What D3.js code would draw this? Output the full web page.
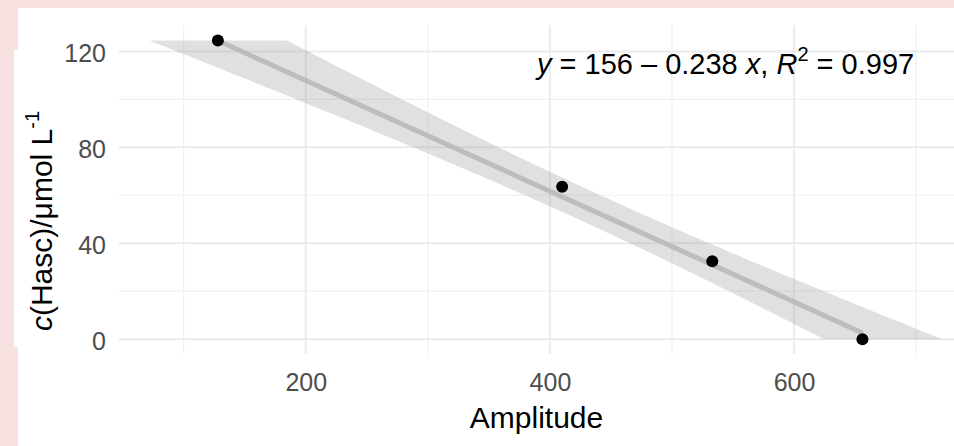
<!DOCTYPE html>
<html>
<head>
<meta charset="utf-8">
<script src="https://cdn.jsdelivr.net/npm/d3@7"></script>
<style>
    body { margin: 0; background: #f7e1e1; }
    svg { display: block; font-family: "Liberation Sans", Arial, sans-serif; }
</style>
</head>
<body>
<svg id="chart" width="954" height="446"></svg>
<script>
// data
const amplitude = [128, 410, 533, 656];
const concentration = [124.5, 63.5, 32.5, 0];
const xMajorTicks = [200, 400, 600];
const xMinorTicks = [100, 300, 500, 700];
const yMajorTicks = [0, 40, 80, 120];
const yMinorTicks = [20, 60, 100];
const fitIntercept = '156';
const fitSlope = '0.238';
const fitR2 = '0.997';

(function() {
    'use strict';

    const svg = d3.select('#chart');
    const W = 954, H = 446;
    const panel = { left: 119, right: 954, top: 25, bottom: 354 };

    // white plot card over the pink slide background
    svg.append('rect').attr('x', 0).attr('y', 0).attr('width', W).attr('height', H).attr('fill', '#f7e1e1');
    svg.append('rect').attr('x', 18).attr('y', 8).attr('width', W - 18).attr('height', H - 8).attr('fill', '#fff');
    svg.append('rect').attr('x', 14).attr('y', 50).attr('width', 6).attr('height', 297).attr('fill', '#fff');

    const x = d3.scaleLinear().domain([47, 731]).range([panel.left, panel.right]);
    const y = d3.scaleLinear().domain([-6.2, 131]).range([panel.bottom, panel.top]);

    svg.append('clipPath').attr('id', 'panel-clip')
        .append('rect')
        .attr('x', panel.left).attr('y', panel.top)
        .attr('width', panel.right - panel.left).attr('height', panel.bottom - panel.top);

    // grid
    const grid = svg.append('g');
    grid.selectAll('.vminor').data(xMinorTicks).enter().append('line')
        .attr('x1', d => x(d)).attr('x2', d => x(d))
        .attr('y1', panel.top).attr('y2', panel.bottom)
        .attr('stroke', '#f0f0f0').attr('stroke-width', 1.2);
    grid.selectAll('.hminor').data(yMinorTicks).enter().append('line')
        .attr('x1', panel.left).attr('x2', panel.right)
        .attr('y1', d => y(d)).attr('y2', d => y(d))
        .attr('stroke', '#f0f0f0').attr('stroke-width', 1.2);
    grid.selectAll('.vmajor').data(xMajorTicks).enter().append('line')
        .attr('x1', d => x(d)).attr('x2', d => x(d))
        .attr('y1', panel.top).attr('y2', panel.bottom)
        .attr('stroke', '#ebebeb').attr('stroke-width', 2);
    grid.selectAll('.hmajor').data(yMajorTicks).enter().append('line')
        .attr('x1', panel.left).attr('x2', panel.right)
        .attr('y1', d => y(d)).attr('y2', d => y(d))
        .attr('stroke', '#ebebeb').attr('stroke-width', 2);

    // linear fit + 95% confidence band
    const n = amplitude.length;
    const mx = d3.mean(amplitude), my = d3.mean(concentration);
    const sxx = d3.sum(amplitude, v => (v - mx) * (v - mx));
    const sxy = d3.sum(amplitude, (v, i) => (v - mx) * (concentration[i] - my));
    const b = sxy / sxx;
    const a = my - b * mx;
    const sse = d3.sum(amplitude, (v, i) => Math.pow(concentration[i] - (a + b * v), 2));
    const s = Math.sqrt(sse / (n - 2));
    const tq = 4.302653; // t(0.975, df = 2)
    const yLo = d3.min(concentration), yHi = d3.max(concentration);
    const clamp = v => Math.max(yLo, Math.min(yHi, v));

    const band = x.ticks(400).concat(x.domain()).sort((p, q) => p - q).map(v => {
        const fit = a + b * v;
        const half = tq * s * Math.sqrt(1 / n + Math.pow(v - mx, 2) / sxx);
        return { x: v, lo: clamp(fit - half), hi: clamp(fit + half) };
    });

    const plot = svg.append('g').attr('clip-path', 'url(#panel-clip)');
    plot.append('path')
        .datum(band)
        .attr('fill', '#999')
        .attr('fill-opacity', 0.3)
        .attr('d', d3.area().x(d => x(d.x)).y0(d => y(d.lo)).y1(d => y(d.hi)));

    // fitted line over the data range, kept inside the y limits
    const xr = d3.extent(amplitude);
    plot.append('path')
        .datum(xr.map(v => ({ x: v, y: clamp(a + b * v) })))
        .attr('fill', 'none')
        .attr('stroke', '#bdbdbd')
        .attr('stroke-width', 5)
        .attr('d', d3.line().x(d => x(d.x)).y(d => y(d.y)));

    // points
    svg.append('g').selectAll('circle')
        .data(amplitude)
        .enter()
        .append('circle')
        .attr('cx', d => x(d))
        .attr('cy', (d, i) => y(concentration[i]))
        .attr('r', 6)
        .attr('fill', '#000');

    // axes (labels only, ggplot minimal style)
    const xAxis = svg.append('g')
        .attr('transform', `translate(0,${panel.bottom})`)
        .call(d3.axisBottom(x).tickValues(xMajorTicks).tickSize(0).tickPadding(19));
    const yAxis = svg.append('g')
        .attr('transform', `translate(${panel.left},0)`)
        .call(d3.axisLeft(y).tickValues(yMajorTicks).tickSize(0).tickPadding(13));
    [xAxis, yAxis].forEach(ax => {
        ax.select('.domain').remove();
        ax.selectAll('text')
            .attr('fill', '#4d4d4d')
            .attr('font-size', 25)
            .attr('font-family', '"Liberation Sans", Arial, sans-serif');
    });
    yAxis.selectAll('text').attr('dy', '0.4em');

    // axis titles
    svg.append('text')
        .attr('x', (panel.left + panel.right) / 2)
        .attr('y', 428)
        .attr('text-anchor', 'middle')
        .attr('font-size', 30)
        .attr('fill', '#000')
        .text('Amplitude');

    const yTitle = svg.append('text')
        .attr('transform', 'translate(52,221) rotate(-90)')
        .attr('text-anchor', 'middle')
        .attr('font-size', 30)
        .attr('fill', '#000');
    yTitle.append('tspan').attr('font-style', 'italic').text('c');
    yTitle.append('tspan').text('(Hasc)/μmol L');
    yTitle.append('tspan').attr('font-size', 20).attr('dy', -13).text('-1');

    // fit equation
    const eq = svg.append('text')
        .attr('x', 537)
        .attr('y', 74)
        .attr('font-size', 29)
        .attr('fill', '#000');
    eq.append('tspan').attr('font-style', 'italic').text('y');
    eq.append('tspan').text(` = ${fitIntercept} \u2013 ${fitSlope} `);
    eq.append('tspan').attr('font-style', 'italic').text('x');
    eq.append('tspan').text(', ');
    eq.append('tspan').attr('font-style', 'italic').text('R');
    eq.append('tspan').attr('font-size', 20).attr('dy', -13).text('2');
    eq.append('tspan').attr('dy', 13).text(` = ${fitR2}`);
})();
</script>
</body>
</html>
